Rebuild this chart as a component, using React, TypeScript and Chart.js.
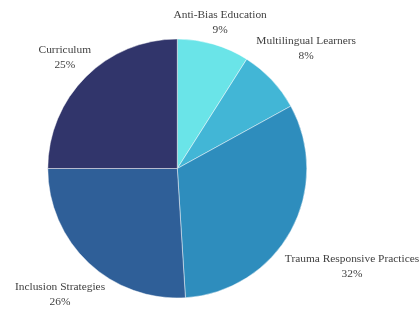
import React, { useEffect, useRef } from "react";
import { Chart, registerables } from "chart.js";

Chart.register(...registerables);

const categories = [
  "Anti-Bias Education",
  "Multilingual Learners",
  "Trauma Responsive Practices",
  "Inclusion Strategies",
  "Curriculum",
];
const values = [9, 8, 32, 26, 25];
const colors = ["#6ae4e8", "#42b6d6", "#2e8dbd", "#2f5f98", "#31356b"];

const labelPlugin = {
  id: "outerLabels",
  afterDatasetsDraw(chart: any) {
    const ctx = chart.ctx;
    const meta = chart.getDatasetMeta(0);
    const total = values.reduce((a, b) => a + b, 0);
    ctx.save();
    ctx.font = "11.4px 'Liberation Serif', serif";
    ctx.fillStyle = "#404040";
    ctx.textAlign = "center";
    ctx.textBaseline = "middle";
    meta.data.forEach((arc: any, i: number) => {
      const { x, y, startAngle, endAngle, outerRadius } = arc.getProps(
        ["x", "y", "startAngle", "endAngle", "outerRadius"],
        true
      );
      const mid = (startAngle + endAngle) / 2;
      const vx = Math.cos(mid);
      const vy = Math.sin(mid);
      const text1 = categories[i];
      const text2 = Math.round((values[i] / total) * 100) + "%";
      const w = Math.max(ctx.measureText(text1).width, ctx.measureText(text2).width);
      const d = outerRadius + 11 + (w / 2) * Math.abs(vx);
      const cx = x + vx * d;
      const cy = y + vy * d + 1.5;
      ctx.fillText(text1, cx, cy - 7.5);
      ctx.fillText(text2, cx, cy + 7.5);
    });
    ctx.restore();
  },
};

export default function App() {
  const ref = useRef<HTMLCanvasElement | null>(null);
  useEffect(() => {
    if (!ref.current) return;
    const chart = new Chart(ref.current, {
      type: "pie",
      data: {
        labels: categories,
        datasets: [
          {
            data: values,
            backgroundColor: colors,
            borderColor: "rgba(255,255,255,0.45)",
            borderWidth: 1,
          },
        ],
      },
      options: {
        animation: false,
        responsive: false,
        layout: { padding: { left: 47.3, right: 111.7, top: 38.5, bottom: 10.5 } },
        plugins: { legend: { display: false }, tooltip: { enabled: false } },
      },
      plugins: [labelPlugin],
    });
    return () => chart.destroy();
  }, []);
  return (
    <div style={{ position: "absolute", left: 0, top: 0, width: 419, height: 309, background: "#fff" }}>
      <canvas ref={ref} width={419} height={309} style={{ width: 419, height: 309 }} />
    </div>
  );
}
